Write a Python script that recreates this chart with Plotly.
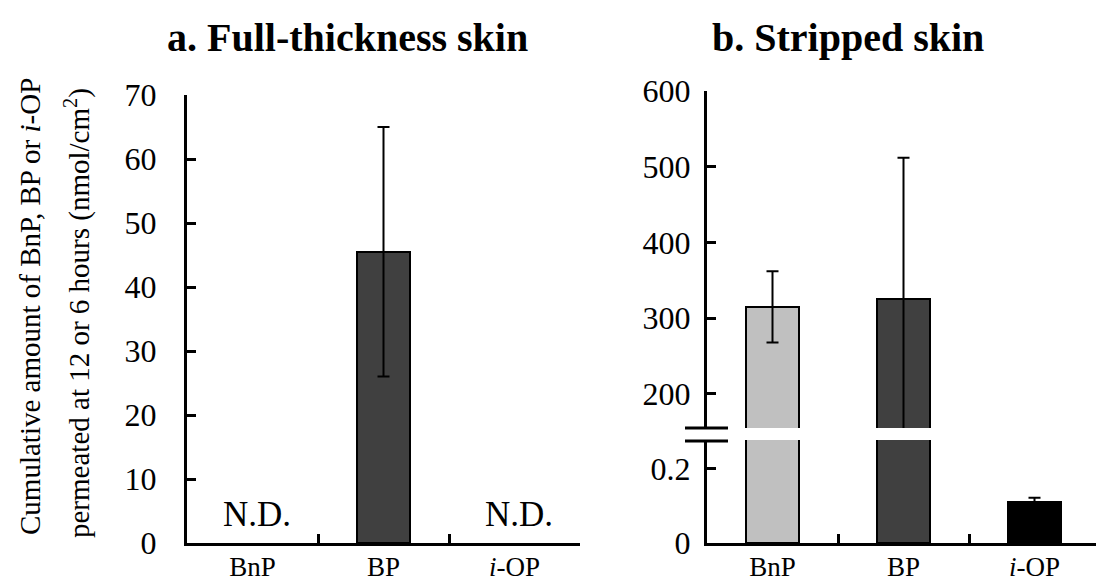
import plotly.graph_objects as go

# ---------------- data ----------------
categories = ["BnP", "BP", "<i>i</i>-OP"]
bar_colors = ["#c0c0c0", "#404040", "#000000"]

full_mean = [None, 45.5, None]
full_err = [None, 19.5, None]
full_labels = ["N.D.", None, "N.D."]

strip_mean = [315, 325, 0.11]
strip_err = [47, 187, 0.011]

left_ticks = [0, 10, 20, 30, 40, 50, 60, 70]
upper_ticks = [200, 300, 400, 500, 600]
lower_ticks = [0, 0.2]
lower_ticktext = ["0", "0.2"]

left_range = [0, 70]
upper_range = [155, 600]
lower_range = [0, 0.276]

W, H = 1096, 588
FONT = "'Liberation Serif', 'Times New Roman', Times, serif"


def px(x):
    return x / W


def py(y):
    return 1 - y / H


fig = go.Figure()

bar_line = dict(color="black", width=2)
err_style = dict(type="data", color="black", thickness=2, width=6)

# ---- panel a ----
fig.add_trace(go.Bar(
    x=categories, y=full_mean, width=0.4,
    marker=dict(color=bar_colors, line=bar_line),
    error_y=dict(array=full_err, **err_style),
    xaxis="x", yaxis="y", showlegend=False, hoverinfo="skip",
))

# ---- panel b (broken axis: lower y2, upper y3) ----
for ya in ["y2", "y3"]:
    fig.add_trace(go.Bar(
        x=categories, y=strip_mean, width=0.4,
        marker=dict(color=bar_colors, line=bar_line),
        xaxis="x2", yaxis=ya, showlegend=False, hoverinfo="skip",
    ))

up_idx = [i for i, v in enumerate(strip_mean) if v > upper_range[0]]
lo_idx = [i for i, v in enumerate(strip_mean) if v < lower_range[1]]
fig.add_trace(go.Scatter(
    x=[categories[i] for i in up_idx], y=[strip_mean[i] for i in up_idx],
    mode="markers", marker=dict(size=1, color="rgba(0,0,0,0)"),
    error_y=dict(array=[strip_err[i] for i in up_idx], **err_style),
    cliponaxis=False, xaxis="x2", yaxis="y3", showlegend=False, hoverinfo="skip",
))
fig.add_trace(go.Scatter(
    x=[categories[i] for i in lo_idx], y=[strip_mean[i] for i in lo_idx],
    mode="markers", marker=dict(size=1, color="rgba(0,0,0,0)"),
    error_y=dict(array=[strip_err[i] for i in lo_idx], **err_style),
    cliponaxis=False, xaxis="x2", yaxis="y2", showlegend=False, hoverinfo="skip",
))

axis_common = dict(
    showline=True, linecolor="black", linewidth=3,
    ticks="inside", ticklen=9, tickwidth=3, tickcolor="black",
    showgrid=False, zeroline=False, automargin=False,
    tickfont=dict(family=FONT, size=32, color="black"),
)
xaxis_common = dict(axis_common)
xaxis_common.update(type="category", tickson="boundaries",
                    tickfont=dict(family=FONT, size=27, color="black"))

fig.update_layout(
    template="none",
    width=W, height=H,
    margin=dict(l=0, r=0, t=0, b=0, pad=0),
    paper_bgcolor="white", plot_bgcolor="rgba(0,0,0,0)",
    font=dict(family=FONT, color="black"),
    bargap=0,
    xaxis=dict(domain=[px(187), px(580)], anchor="y",
               categoryorder="array", categoryarray=categories,
               range=[-0.5, 2.5], ticklabelstandoff=-2, **xaxis_common),
    yaxis=dict(domain=[py(543), py(95)], anchor="x", range=left_range,
               tickvals=left_ticks, ticklabelstandoff=21, **axis_common),
    xaxis2=dict(domain=[px(707), 1], anchor="y2",
                categoryorder="array", categoryarray=categories,
                range=[-0.5, -0.5 + (W - 707) / 131.0], ticklabelstandoff=-2,
                **xaxis_common),
    yaxis2=dict(domain=[py(543), py(440)], anchor="x2", range=lower_range,
                tickvals=lower_ticks, ticktext=lower_ticktext,
                ticklabelstandoff=7, **axis_common),
    yaxis3=dict(domain=[py(428), py(91)], anchor="x2", range=upper_range,
                tickvals=upper_ticks, ticklabelstandoff=7, **axis_common),
)

# break gap and marks
fig.add_shape(type="rect", xref="paper", yref="paper",
              x0=px(700), x1=1, y0=py(439.5), y1=py(429.5),
              fillcolor="white", line=dict(width=0), layer="above")
for yb in [428, 441]:
    fig.add_shape(type="line", xref="paper", yref="paper",
                  x0=px(685), x1=px(728), y0=py(yb), y1=py(yb),
                  line=dict(color="black", width=3), layer="above")

# N.D. labels
for cat, lab in zip(categories, full_labels):
    if lab:
        fig.add_annotation(x=cat, y=0, xref="x", yref="y", text=lab,
                           showarrow=False, xanchor="center", yanchor="bottom",
                           yshift=7, xshift=4,
                           font=dict(family=FONT, size=35, color="black"))

# titles
fig.add_annotation(x=px(347), y=py(37), xref="paper", yref="paper",
                   text="<b>a. Full-thickness skin</b>", showarrow=False,
                   xanchor="center", yanchor="middle",
                   font=dict(family=FONT, size=40, color="black"))
fig.add_annotation(x=px(848), y=py(37), xref="paper", yref="paper",
                   text="<b>b. Stripped skin</b>", showarrow=False,
                   xanchor="center", yanchor="middle",
                   font=dict(family=FONT, size=40, color="black"))

# y-axis title (two lines)
fig.add_annotation(x=px(30), y=py(307), xref="paper", yref="paper",
                   text="Cumulative amount of BnP, BP or <i>i</i>-OP",
                   textangle=-90, showarrow=False,
                   xanchor="center", yanchor="middle",
                   font=dict(family=FONT, size=29, color="black"))
fig.add_annotation(x=px(77), y=py(313), xref="paper", yref="paper",
                   text="permeated at 12 or 6 hours (nmol/cm<sup>2</sup>)",
                   textangle=-90, showarrow=False,
                   xanchor="center", yanchor="middle",
                   font=dict(family=FONT, size=29, color="black"))

fig.write_html("out.html")
